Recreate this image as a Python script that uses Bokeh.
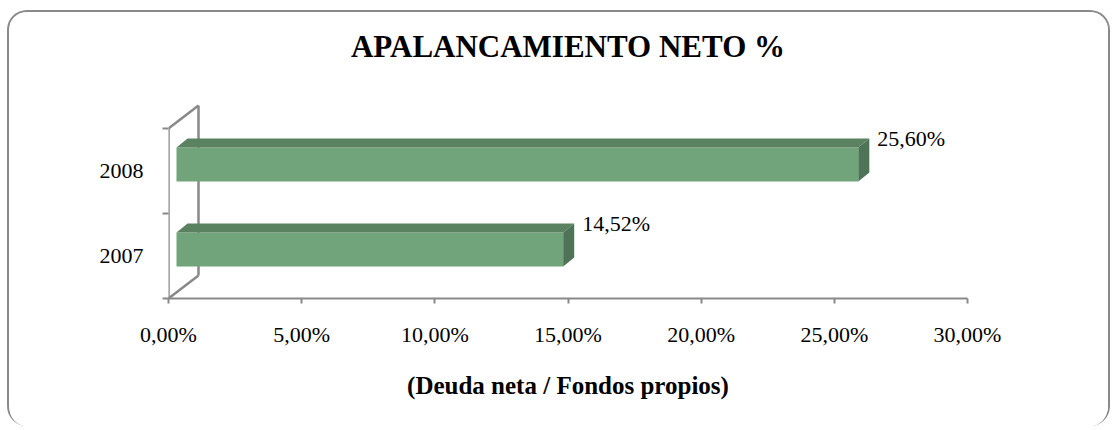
from bokeh.plotting import figure
from bokeh.models import Range1d, FixedTicker, CustomJSTickFormatter
from bokeh.embed import file_html
from bokeh.resources import INLINE
from bokeh.core.properties import value

# ---- data ----
years = ["2007", "2008"]
ratios = [14.52, 25.60]
value_labels = ["14,52%", "25,60%"]
x_ticks = [0, 5, 10, 15, 20, 25, 30]
title_text = "APALANCAMIENTO NETO %"
x_title = "(Deuda neta / Fondos propios)"

# ---- layout (pixels) ----
W, H = 1103, 416
LB, RB, TB, BB = 159, 145, 60, 130
frame_w = W - LB - RB
frame_h = H - TB - BB
cat_px = 85.0
x_max = x_ticks[-1]
sx = x_max / frame_w          # data units per pixel (x)
sy = 1.0 / cat_px             # data units per pixel (y)
y_end = frame_h / cat_px

FONT = "Liberation Serif"
GREY = "#898989"
FRONT, TOP, SIDE = "#72A47B", "#5A8261", "#4F7356"

p = figure(width=W, height=H, output_backend="svg", toolbar_location=None,
           x_range=Range1d(0, x_max), y_range=Range1d(0, y_end),
           min_border_left=LB, min_border_right=RB, min_border_top=TB, min_border_bottom=BB)
p.outline_line_color = None
p.grid.visible = False
p.background_fill_color = "white"
p.border_fill_color = "white"
p.styles = {"border": "2px solid #898989", "border-bottom": "none",
            "border-radius": "20px",
            "margin-left": "7px", "margin-top": "10px", "overflow": "hidden"}

# ---- title ----
p.title.text = title_text
p.title.align = "center"
p.title.text_font = FONT
p.title.text_font_size = "31px"
p.title.text_font_style = "bold"
p.title.text_color = "black"
p.title.vertical_align = "top"
p.title.standoff = 14

# ---- x axis ----
xa = p.xaxis[0]
xa.ticker = FixedTicker(ticks=x_ticks)
xa.formatter = CustomJSTickFormatter(code="return tick.toFixed(2).replace('.', ',') + '%';")
xa.axis_line_color = GREY
xa.axis_line_width = 2
xa.major_tick_line_color = GREY
xa.major_tick_line_width = 2
xa.major_tick_out = 5
xa.major_tick_in = 0
xa.minor_tick_line_color = None
xa.major_label_text_font = FONT
xa.major_label_text_font_size = "22px"
xa.major_label_text_color = "black"
xa.major_label_standoff = 18
xa.axis_label = x_title
xa.axis_label_text_font = FONT
xa.axis_label_text_font_size = "25px"
xa.axis_label_text_font_style = "bold"
xa.axis_label_text_color = "black"
xa.axis_label_standoff = 22

# ---- y axis (categories at centres, boundary ticks as minor ticks) ----
n = len(years)
ya = p.yaxis[0]
ya.ticker = FixedTicker(ticks=[i + 0.5 for i in range(n)], minor_ticks=list(range(n + 1)))
ya.formatter = CustomJSTickFormatter(args=dict(labels=years),
                                     code="return labels[Math.floor(tick)];")
ya.axis_line_color = None
ya.major_tick_line_color = None
ya.major_tick_out = 0
ya.major_tick_in = 0
ya.minor_tick_line_color = GREY
ya.minor_tick_line_width = 2
ya.minor_tick_out = 6
ya.minor_tick_in = 0
ya.major_label_text_font = FONT
ya.major_label_text_font_size = "22px"
ya.major_label_text_color = "black"
ya.major_label_standoff = 19

# ---- 3D wall ----
wdx, wdy = 30 * sx, 23 * sy
p.segment(x0=[0, wdx, 0, 0], y0=[0, wdy, n, 0],
          x1=[0, wdx, wdx, wdx], y1=[n, n + wdy, n + wdy, wdy],
          line_color=GREY, line_width=2.5)

# ---- 3D bars ----
off_x, off_y = 8 * sx, 6.5 * sy
half = 17 * sy
ddx, ddy = 11 * sx, 9 * sy
lefts, rights, bottoms, tops = [], [], [], []
top_xs, top_ys, side_xs, side_ys = [], [], [], []
for i, v in enumerate(ratios):
    c = i + 0.5 + off_y
    l, r, b, t = off_x, v + off_x, c - half, c + half
    lefts.append(l); rights.append(r); bottoms.append(b); tops.append(t)
    top_xs.append([l, l + ddx, r + ddx, r]); top_ys.append([t, t + ddy, t + ddy, t])
    side_xs.append([r, r + ddx, r + ddx, r]); side_ys.append([t, t + ddy, b + ddy, b])

p.quad(left=lefts, right=rights, bottom=bottoms, top=tops,
       fill_color=FRONT, line_color=None)
p.patches(xs=top_xs, ys=top_ys, fill_color=TOP, line_color=None)
p.patches(xs=side_xs, ys=side_ys, fill_color=SIDE, line_color=None)

p.text(x=[r + ddx for r in rights], y=[t + ddy for t in tops], text=value_labels,
       x_offset=8, text_baseline="middle", text_align="left",
       text_font=value(FONT), text_font_size="22px", text_color="black")

open("out.html", "w").write(file_html(p, INLINE))
